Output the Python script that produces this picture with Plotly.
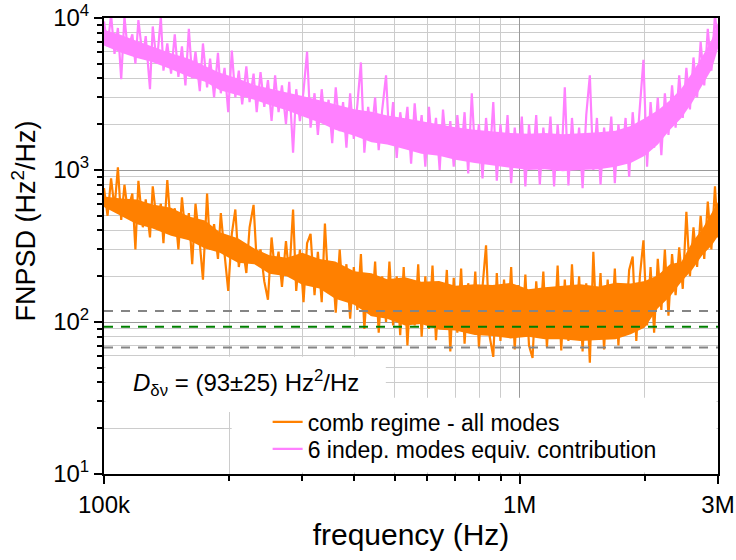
import math
import plotly.graph_objects as go

# ---------------- data ----------------
freq_khz = [
    100, 102, 104, 106, 108, 110, 112, 114, 117, 119,
    121, 124, 126, 129, 131, 134, 137, 139, 142, 145,
    148, 151, 154, 157, 160, 163, 166, 170, 173, 177,
    180, 184, 188, 191, 195, 199, 203, 207, 211, 215,
    220, 224, 229, 233, 238, 243, 248, 253, 258, 263,
    268, 274, 279, 285, 290, 296, 302, 308, 314, 321,
    327, 334, 340, 347, 354, 361, 369, 376, 383, 391,
    399, 407, 415, 423, 432, 440, 449, 458, 467, 477,
    486, 496, 506, 516, 526, 537, 548, 559, 570, 581,
    593, 605, 617, 629, 642, 654, 668, 681, 694, 708,
    723, 737, 752, 767, 782, 798, 814, 830, 847, 864,
    881, 899, 917, 935, 954, 973, 992, 1012, 1032, 1053,
    1074, 1096, 1118, 1140, 1163, 1186, 1210, 1234, 1259, 1284,
    1310, 1336, 1362, 1390, 1417, 1446, 1475, 1504, 1534, 1565,
    1596, 1628, 1661, 1694, 1728, 1763, 1798, 1834, 1870, 1908,
    1946, 1985, 2025, 2065, 2106, 2149, 2192, 2235, 2280, 2326,
    2372, 2420, 2468, 2518, 2568, 2619, 2672, 2725, 2780, 2835,
    2892, 2950, 3000,
]

comb_psd = [
    760, 500, 880, 560, 1040, 470, 800, 540, 700, 300,
    850, 420, 640, 360, 780, 450, 600, 330, 860, 400,
    560, 300, 660, 380, 520, 240, 600, 330, 190, 700,
    300, 440, 260, 520, 280, 160, 380, 550, 230, 330,
    210, 420, 590, 250, 300, 185, 140, 360, 210, 290,
    170, 340, 200, 550, 160, 300, 135, 330, 380, 150,
    290, 135, 445, 160, 250, 115, 300, 140, 240, 105,
    230, 120, 280, 90, 210, 110, 250, 85, 200, 100,
    250, 95, 200, 82, 230, 70, 190, 95, 240, 80,
    200, 90, 235, 76, 180, 95, 220, 64, 195, 85,
    225, 72, 180, 90, 215, 68, 170, 320, 80, 59,
    210, 75, 190, 88, 230, 66, 175, 80, 205, 70,
    58, 185, 90, 215, 68, 170, 82, 235, 65, 190,
    75, 240, 88, 200, 64, 180, 54, 290, 80, 210,
    66, 190, 85, 225, 70, 175, 90, 220, 270, 75,
    200, 345, 95, 230, 85, 260, 120, 300, 110, 280,
    150, 310, 165, 530, 200, 420, 230, 500, 260, 620,
    300, 780, 360,
]

indep_psd = [
    9500, 6500, 10500, 5800, 8600, 3960, 10200, 6200, 7800, 5000,
    9700, 5400, 7600, 3400, 8800, 5000, 10200, 4500, 6800, 4300,
    7800, 4100, 6500, 3600, 8500, 4000, 6000, 3300, 6800, 3500,
    5400, 3000, 5900, 3200, 4700, 2400, 6100, 3000, 4500, 2700,
    4800, 2800, 4300, 2400, 4400, 2600, 3900, 2100, 4200, 2400,
    3600, 2000, 3800, 1300, 3400, 2100, 3300, 6000, 1900, 3200,
    1700, 3400, 2000, 2900, 1500, 3500, 1800, 2800, 1400, 3200,
    1600, 2700, 5100, 1300, 2600, 1700, 3000, 1350, 2500, 4200,
    1500, 2800, 1200, 2400, 1600, 2600, 1100, 2750, 1450, 2300,
    1050, 2600, 1350, 2200, 1000, 2500, 1300, 2100, 1050, 2300,
    1250, 2400, 950, 3200, 1200, 2000, 880, 2200, 1150, 2800,
    850, 2000, 1100, 2300, 820, 1900, 1100, 2250, 780, 2000,
    1050, 2300, 800, 1900, 1100, 2250, 780, 2000, 1050, 3500,
    790, 2200, 1050, 1900, 760, 2300, 4200, 1000, 2200, 800,
    1900, 1100, 2250, 820, 2000, 1150, 2200, 900, 2400, 1250,
    2600, 5300, 1050, 2800, 1400, 3000, 1250, 3200, 1700, 3600,
    1900, 4200, 2200, 4700, 2500, 5500, 3000, 7000, 3600, 8500,
    4500, 10500, 6800,
]

# dense (solid-looking) body of each noisy band, read at a set of frequencies
core_khz = [100, 110, 120, 130, 145, 160, 175, 190, 210, 230,
            250, 275, 300, 330, 360, 400, 440, 480, 530, 580,
            640, 700, 780, 860, 950, 1050, 1150, 1270, 1400, 1550,
            1700, 1850, 2000, 2150, 2300, 2450, 2600, 2750, 2900, 3000]
comb_core_lo = [570, 495, 440, 415, 370, 345, 305, 285, 245, 240,
                208, 200, 176, 166, 142, 130, 109, 105, 95, 97,
                89, 88, 82, 81, 78, 80, 77, 77, 75, 76,
                77, 83, 92, 123, 147, 184, 221, 275, 320, 368]
comb_core_hi = [670, 650, 640, 595, 565, 495, 465, 390, 355, 305,
                275, 265, 285, 260, 250, 216, 209, 191, 197, 184,
                186, 173, 177, 175, 181, 164, 169, 172, 177, 171,
                181, 179, 186, 203, 240, 249, 335, 409, 520, 615]
indep_core_lo = [6600, 5900, 5450, 5150, 4600, 4100, 3800, 3350, 3100, 2900,
                 2680, 2470, 2260, 2050, 1840, 1680, 1520, 1470, 1370, 1280,
                 1240, 1170, 1110, 1070, 1030, 1000, 1010, 980, 1000, 1010,
                 1050, 1110, 1240, 1470, 1840, 2200, 2780, 3570, 4620, 6300]
indep_core_hi = [8370, 7720, 7070, 6510, 5860, 5390, 4840, 4370, 4000, 3630,
                 3440, 3250, 3070, 2880, 2700, 2510, 2420, 2280, 2190, 2090,
                 2000, 1910, 1840, 1790, 1750, 1730, 1750, 1720, 1740, 1770,
                 1810, 1950, 2190, 2470, 2880, 3440, 4370, 5580, 7250, 9300]

series_names = ["comb regime - all modes", "6 indep. modes equiv. contribution"]
d_mean = 93
d_err = 25

x_tickvals = [1e5, 1e6, 3e6]
x_ticktext = ["100k", "1M", "3M"]
x_minorvals = [2e5, 3e5, 4e5, 5e5, 6e5, 7e5, 8e5, 9e5, 2e6]
y_tickvals = [10, 100, 1000, 10000]
y_ticktext = ["10<sup>1</sup>", "10<sup>2</sup>", "10<sup>3</sup>", "10<sup>4</sup>"]
y_minorvals = [m * 10 ** e for e in (1, 2, 3) for m in range(2, 10)]

# ---------------- figure ----------------
freq_hz = [f * 1e3 for f in freq_khz]
core_hz = [f * 1e3 for f in core_khz]
FONT = "Arial, Liberation Sans, sans-serif"
ORANGE = "#FF8000"
PINK = "#FF80FF"
PW = 613.5   # plot width in px (for domain-fraction insets)
PH = 456.0   # plot height in px

fig = go.Figure()

# solid bodies (under the noisy traces)
for lo, hi, col in [(comb_core_lo, comb_core_hi, ORANGE), (indep_core_lo, indep_core_hi, PINK)]:
    fig.add_trace(go.Scatter(x=core_hz, y=lo, mode="lines", line=dict(width=0, color=col),
                             showlegend=False, hoverinfo="skip"))
    fig.add_trace(go.Scatter(x=core_hz, y=hi, mode="lines", line=dict(width=0, color=col),
                             fill="tonexty", fillcolor=col, showlegend=False, hoverinfo="skip"))

fig.add_trace(go.Scatter(x=freq_hz, y=comb_psd, mode="lines", name=series_names[0],
                         line=dict(color=ORANGE, width=2.2), legend="legend"))
fig.add_trace(go.Scatter(x=freq_hz, y=indep_psd, mode="lines", name=series_names[1],
                         line=dict(color=PINK, width=2.2), legend="legend2"))

x_ends = [freq_hz[0], freq_hz[-1]]
for val, col in [(d_mean + d_err, "#858585"), (d_mean, "#008000"), (d_mean - d_err, "#858585")]:
    fig.add_trace(go.Scatter(x=x_ends, y=[val, val], mode="lines", showlegend=False,
                             line=dict(color=col, width=2, dash="9px,8px")))

# white boxes behind the annotation and the legend (inset so the frame stays visible)
fig.add_shape(type="rect", xref="x domain", yref="y domain", x0=1.5 / PW, x1=0.459,
              y0=0.136, y1=0.257, fillcolor="white", line_width=0, layer="above")
fig.add_shape(type="rect", xref="x domain", yref="y domain", x0=0.208, x1=1 - 1.5 / PW,
              y0=1.5 / PH, y1=0.167, fillcolor="white", line_width=0, layer="above")

# inward ticks on the right-hand frame
for v in y_tickvals:
    fig.add_shape(type="line", xref="x domain", yref="y", x0=1, x1=1 - 8 / PW,
                  y0=math.log10(v), y1=math.log10(v), line=dict(color="black", width=1.5),
                  layer="above")
for v in y_minorvals:
    fig.add_shape(type="line", xref="x domain", yref="y", x0=1, x1=1 - 5 / PW,
                  y0=math.log10(v), y1=math.log10(v), line=dict(color="black", width=1.5),
                  layer="above")

fig.add_annotation(xref="paper", yref="paper", x=0.232, y=0.2, xanchor="center", yanchor="middle",
                   text=f"<i>D</i><sub>δν</sub> = ({d_mean}±{d_err}) Hz<sup>2</sup>/Hz",
                   showarrow=False, font=dict(size=24, color="black", family=FONT))
fig.add_annotation(xref="paper", yref="paper", x=-0.131, y=0.555, xanchor="center", yanchor="middle",
                   text="FNPSD (Hz<sup>2</sup>/Hz)", textangle=-90,
                   showarrow=False, font=dict(size=27, color="black", family=FONT))

MAJOR_GRID = "#9a9a9a"
MINOR_GRID = "#cccccc"
legend_style = dict(x=0.2665, xanchor="left", yanchor="middle", bgcolor="rgba(0,0,0,0)",
                    font=dict(size=23, family=FONT, color="black"))

fig.update_layout(
    width=736, height=560,
    margin=dict(l=104, r=18, t=18, b=86, autoexpand=False),
    paper_bgcolor="white", plot_bgcolor="white",
    font=dict(family=FONT, color="black"),
    showlegend=True,
    legend=dict(y=0.114, **legend_style),
    legend2=dict(y=0.055, **legend_style),
    xaxis=dict(type="log", range=[5, 6.47712], tickmode="array", tickvals=x_tickvals,
               ticktext=x_ticktext, ticks="outside", ticklen=8, tickwidth=1.5, tickcolor="black",
               tickfont=dict(size=24), showline=True, linewidth=2, linecolor="black", mirror=True,
               showgrid=True, gridcolor=MAJOR_GRID, gridwidth=1, zeroline=False, automargin=False,
               minor=dict(tickmode="array", tickvals=x_minorvals, ticks="outside", ticklen=5,
                          tickwidth=1.5, tickcolor="black", showgrid=True, gridcolor=MINOR_GRID,
                          gridwidth=1),
               title=dict(text="frequency (Hz)", font=dict(size=30), standoff=6)),
    yaxis=dict(type="log", range=[1, 4], tickmode="array", tickvals=y_tickvals,
               ticktext=y_ticktext, ticks="outside", ticklen=8, tickwidth=1.5, tickcolor="black",
               tickfont=dict(size=24), showline=True, linewidth=2, linecolor="black", mirror=True,
               showgrid=True, gridcolor=MAJOR_GRID, gridwidth=1, zeroline=False, automargin=False,
               minor=dict(tickmode="array", tickvals=y_minorvals, ticks="outside", ticklen=5,
                          tickwidth=1.5, tickcolor="black", showgrid=True, gridcolor=MINOR_GRID,
                          gridwidth=1)),
)

fig.write_html("out.html")
